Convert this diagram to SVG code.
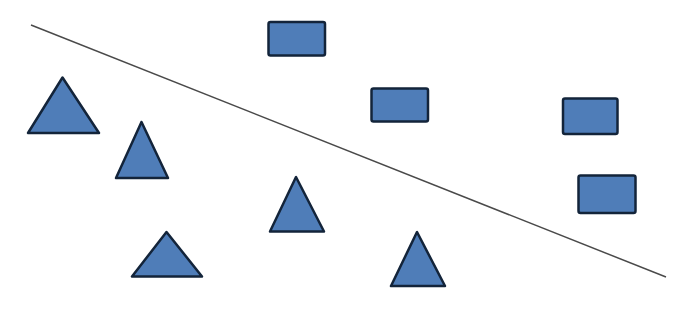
<svg xmlns="http://www.w3.org/2000/svg" width="678" height="324" viewBox="0 0 678 324">
<style>
.s{fill:#4f7db8;stroke:#13243a;stroke-width:2.5;stroke-linejoin:round}
.ln{stroke:#4a4a4a;stroke-width:1.5;fill:none}
</style>
<rect width="678" height="324" fill="#ffffff"/>
<g id="connectors"><line class="ln" x1="31" y1="25" x2="666" y2="277"/></g>
<g id="tri1"><polygon class="s" points="62.5,77.5 28,133 99,133"/></g>
<g id="tri2"><polygon class="s" points="141.5,122 116,178 168,178"/></g>
<g id="tri3"><polygon class="s" points="296,177 270,231.5 324,231.5"/></g>
<g id="tri4"><polygon class="s" points="166.5,232 132,276.5 202,276.5"/></g>
<g id="tri5"><polygon class="s" points="417,232 391,286 445,286"/></g>
<g id="rect1"><rect class="s" x="268.5" y="22" width="56.5" height="33.5" rx="2"/></g>
<g id="rect2"><rect class="s" x="371.5" y="88.5" width="56.5" height="33" rx="2"/></g>
<g id="rect3"><rect class="s" x="563" y="98.5" width="54.5" height="35.5" rx="2"/></g>
<g id="rect4"><rect class="s" x="578.5" y="175.5" width="57" height="37.5" rx="2"/></g>
</svg>
